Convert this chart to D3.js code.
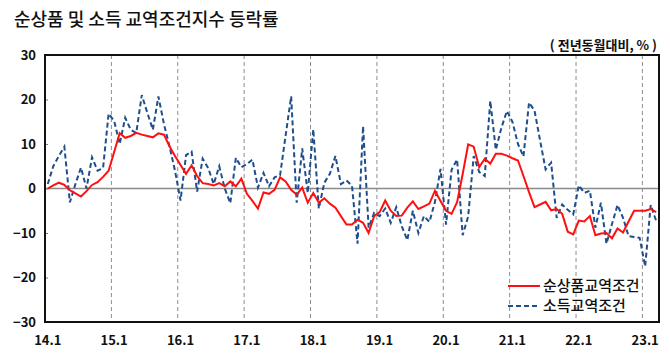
<!DOCTYPE html>
<html>
<head>
<meta charset="utf-8">
<script src="https://cdn.jsdelivr.net/npm/d3@7"></script>
<style>
  body { margin: 0; background: #fff; }
  svg { display: block; }
</style>
</head>
<body>
<svg id="chart"></svg>
<script>
// years shown on the axis, months run 14.1 .. 23.3
var years = [14, 15, 16, 17, 18, 19, 20, 21, 22, 23];
var tickLabels = ['14.1', '15.1', '16.1', '17.1', '18.1', '19.1', '20.1', '21.1', '22.1', '23.1'];
var yTicks = [30, 20, 10, 0, -10, -20, -30];
var seriesNames = ['순상품교역조건', '소득교역조건'];

// 순상품교역조건 (red)
var netTerms = [
  0.0, 0.7, 1.3, 0.8, -0.4, -1.1, -1.8, -0.6, 0.8, 1.4, 2.6, 4.0,
  8.2, 12.4, 11.4, 11.8, 12.5, 12.1, 11.8, 11.5, 12.4, 12.1, 9.5, 7.3,
  5.3, 3.3, 5.2, 2.8, 1.2, 1.0, 0.7, 1.2, 0.5, 1.6, 0.5, 2.2,
  -1.2, -2.8, -4.5, -0.9, -1.2, -0.3, 2.5, 1.6, -0.3, -1.4, 0.2, -3.2,
  -1.0, -3.2, -2.2, -3.4, -4.3, -6.2, -8.1, -8.1, -7.0, -7.7, -10.0, -6.2,
  -5.3, -2.7, -5.0, -6.2, -6.1, -4.3, -2.9, -4.6, -4.0, -3.4, -0.5, -2.8,
  -5.0, -5.7, -3.1, 3.2, 9.9, 9.4, 4.8, 6.7, 5.6, 7.8, 7.8, 7.4,
  6.8, 6.3, 2.8, -0.8, -4.2, -3.6, -3.0, -4.9, -4.6, -5.7, -9.7, -10.3,
  -7.2, -7.4, -6.2, -10.5, -10.1, -10.0, -11.2, -9.0, -9.9, -7.4, -5.0, -5.0,
  -5.0, -4.6, -5.3
];

// 소득교역조건 (blue dashed)
var incomeTerms = [
  1.0, 5.0, 7.3, 9.4, -3.1, 1.0, 4.7, 0.0, 7.0, 4.0, 4.6, 16.8,
  15.2, 10.0, 15.9, 13.2, 12.5, 21.0, 17.0, 13.2, 20.7, 14.5, 9.5, 4.0,
  -2.7, 7.5, 8.3, -0.7, 6.7, 4.6, 1.0, 5.0, 0.0, -3.3, 6.9, 4.8,
  5.5, 6.5, 0.2, 3.5, 0.5, 2.5, 3.0, 11.9, 20.7, -3.2, 9.0, -1.0,
  13.3, -4.5, 1.3, 3.3, 7.3, 1.0, 1.8, 0.6, -12.4, 14.0, -8.8, -5.5,
  -6.2, -4.5, -7.7, -4.2, -8.5, -11.6, -5.0, -10.0, -6.2, -7.5, -3.0, 4.4,
  -8.1, 4.2, 6.5, -10.5, -6.3, 7.3, 3.7, 2.8, 19.7, 8.7, 13.6, 17.4,
  15.0, 10.0, 7.2, 19.3, 17.5, 10.8, 4.3, 5.8, -6.6, -3.6, -4.8, -5.8,
  0.7, -1.0, -0.5, -8.8, -3.2, -12.4, -8.0, -3.7, -6.6, -10.7, -10.9, -11.1,
  -17.5, -3.7, -7.3
];

var width = 670, height = 361;
var margin = { top: 55, right: 11, bottom: 39, left: 45 };

// month keys like "14.1"
var months = [];
years.forEach(function(y) {
  for (var m = 1; m <= 12; m++) months.push(y + '.' + m);
});
months = months.slice(0, netTerms.length);

var svg = d3.select('#chart')
  .attr('width', width)
  .attr('height', height);

var font = "'Noto Sans CJK KR', 'Noto Sans', sans-serif";

var x = d3.scaleBand()
  .domain(months)
  .range([margin.left, width - margin.right])
  .padding(0);
var bw = x.bandwidth();
var cx = function(m) { return x(m) + bw / 2; };

var y = d3.scaleLinear()
  .domain([-30, 30])
  .range([height - margin.bottom, margin.top]);

// title
svg.append('text')
  .attr('x', 14)
  .attr('y', 26)
  .attr('font-family', font)
  .attr('font-size', '18px')
  .attr('font-weight', 500)
  .attr('fill', '#111')
  .text('순상품 및 소득 교역조건지수 등락률');

svg.append('text')
  .attr('x', 657)
  .attr('y', 50)
  .attr('text-anchor', 'end')
  .attr('font-family', font)
  .attr('font-size', '13px')
  .attr('font-weight', 700)
  .attr('fill', '#111')
  .text('( 전년동월대비, % )');

// year gridlines
var janKeys = tickLabels.slice(1);
svg.append('g')
  .selectAll('line')
  .data(janKeys)
  .enter().append('line')
  .attr('x1', function(d) { return x(d); })
  .attr('x2', function(d) { return x(d); })
  .attr('y1', margin.top)
  .attr('y2', height - margin.bottom)
  .attr('stroke', '#8c8c8c')
  .attr('stroke-width', 1)
  .attr('stroke-dasharray', '4,3');

// zero line
svg.append('line')
  .attr('x1', margin.left)
  .attr('x2', width - margin.right)
  .attr('y1', y(0))
  .attr('y2', y(0))
  .attr('stroke', '#8a8a8a')
  .attr('stroke-width', 1.5);

// y axis
var yAxis = d3.axisLeft(y)
  .tickValues(yTicks)
  .tickSize(-3)
  .tickPadding(9)
  .tickFormat(d3.format('d'));
var gy = svg.append('g')
  .attr('transform', 'translate(' + margin.left + ',0)')
  .call(yAxis);
gy.select('.domain').remove();
gy.selectAll('.tick line').attr('stroke', '#777');
gy.selectAll('text')
  .attr('font-family', font)
  .attr('font-size', '13px')
  .attr('font-weight', 700)
  .attr('fill', '#111');

// x axis labels
var xAxis = d3.axisBottom(x)
  .tickValues(tickLabels)
  .tickSize(0)
  .tickPadding(14);
var gx = svg.append('g')
  .attr('transform', 'translate(0,' + (height - margin.bottom) + ')')
  .call(xAxis);
gx.select('.domain').remove();
gx.selectAll('text')
  .attr('font-family', font)
  .attr('font-size', '13px')
  .attr('font-weight', 700)
  .attr('fill', '#111');

// frame
svg.append('rect')
  .attr('x', margin.left)
  .attr('y', margin.top)
  .attr('width', width - margin.left - margin.right)
  .attr('height', height - margin.top - margin.bottom)
  .attr('fill', 'none')
  .attr('stroke', '#111')
  .attr('stroke-width', 2);

var line = d3.line()
  .x(function(d, i) { return cx(months[i]); })
  .y(function(d) { return y(d); });

svg.append('path')
  .datum(incomeTerms)
  .attr('d', line)
  .attr('fill', 'none')
  .attr('stroke', '#1f4e8c')
  .attr('stroke-width', 2)
  .attr('stroke-dasharray', '5,3');

svg.append('path')
  .datum(netTerms)
  .attr('d', line)
  .attr('fill', 'none')
  .attr('stroke', '#ff1010')
  .attr('stroke-width', 2);

// legend
var legend = svg.append('g');
var styles = [
  { color: '#ff1010', dash: null },
  { color: '#1f4e8c', dash: '5,3' }
];
seriesNames.forEach(function(name, i) {
  var ly = 286 + i * 20;
  legend.append('line')
    .attr('x1', 508)
    .attr('x2', 540)
    .attr('y1', ly)
    .attr('y2', ly)
    .attr('stroke', styles[i].color)
    .attr('stroke-width', 2)
    .attr('stroke-dasharray', styles[i].dash);
  legend.append('text')
    .attr('x', 543)
    .attr('y', ly + 5)
    .attr('font-family', font)
    .attr('font-size', '15px')
    .attr('font-weight', 500)
    .attr('fill', '#111')
    .text(name);
});
</script>
</body>
</html>
